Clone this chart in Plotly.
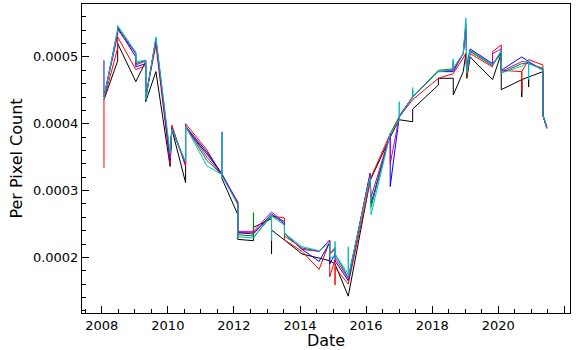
import plotly.graph_objects as go

# Observation dates (some dates carry several observations -> vertical segments)
dates = ["2008-01-26", "2008-06-25", "2009-01-12", "2009-05-01", "2009-08-22",
         "2010-01-26", "2010-02-14", "2010-07-16", "2011-03-08", "2011-08-22",
         "2012-02-13", "2012-08-04", "2013-02-20", "2013-07-13", "2014-01-23",
         "2014-07-31", "2014-11-25", "2015-01-23", "2015-06-18", "2016-02-14",
         "2016-02-25", "2016-09-24", "2017-01-01", "2017-05-30", "2018-03-10",
         "2018-08-22", "2018-12-10", "2019-01-08", "2019-01-19", "2019-02-24",
         "2019-10-30", "2020-02-03", "2020-09-17", "2020-12-02", "2021-05-08",
         "2021-06-21"]

UNIT = 1e-6  # values below are given in millionths

black = [[436, 436], [494, 520], [463, 463], [493, 433], [478], [336], [392], [312, 394],
         [355], [325, 318, 318], [264, 227], [225, 245, 245], [258, 205, 241], [226, 226],
         [205], [199], [195, 195], [190, 190, 190], [142, 142, 142], [315], [318], [380, 380],
         [406, 406, 406], [403, 422, 422], [458, 468], [468, 443, 443], [478], [505], [468],
         [500], [466, 466], [505, 451], [466, 440, 466], [470, 455, 470], [478, 413], [395]]

red = [[334, 436], [513, 530], [481, 481], [487, 440], [518], [340], [398], [336, 400],
       [361], [322, 322, 322], [282, 237], [237, 237, 237], [262, 262, 262], [259, 226],
       [209], [182], [224, 171], [196, 159, 185], [160, 160, 160], [318], [320], [385, 385],
       [410, 410, 410], [436, 436, 436], [468, 468], [475, 475, 475], [498], [505], [472],
       [505], [485, 508], [518, 480], [478, 448, 478], [496, 496, 496], [488, 413], [395]]

blue = [[495, 440], [540, 543], [500, 485], [490, 440], [525], [345], [394], [340, 396],
        [358], [325, 325, 325], [282, 237], [235, 235, 235], [265, 265, 265], [250, 236],
        [212], [194], [222, 190], [205, 195, 195], [165, 165, 165], [326], [280], [385, 306],
        [410, 412, 412], [440, 440, 440], [478, 478], [478, 478, 478], [505], [540], [485],
        [512], [490, 490], [505, 480], [500, 500, 500], [493, 493, 493], [480, 413], [393]]

green = [[440, 440], [535, 545], [505, 490], [495, 436], [527], [350], [392], [342, 396],
         [345], [324, 324, 324], [280, 234], [232, 267, 230], [262, 262, 262], [254, 232],
         [214], [209], [226, 205], [215, 205, 205], [170, 170, 170], [322], [275], [385, 385],
         [410, 410, 410], [440, 450, 440], [480, 480], [482, 495, 482], [505], [550], [478],
         [508], [487, 487], [507, 476], [490, 490, 490], [490, 490, 490], [483, 413], [395]]

magenta = [[440, 440], [533, 541], [505, 488], [494, 438], [526], [348], [392], [340, 397],
           [350], [324, 388, 323], [283, 239], [239, 239, 239], [268, 268, 268], [252, 236],
           [212], [209], [226, 205], [212, 200, 200], [168, 168, 168], [324], [290], [385, 340],
           [410, 410, 410], [440, 440, 440], [478, 478], [480, 490, 480], [505], [545], [480],
           [510], [488, 505], [512, 478], [493, 493, 493], [492, 492, 492], [481, 413], [393]]

cyan = [[436, 440], [540, 547], [507, 493], [495, 436], [530], [356], [392], [343, 396],
        [337], [324, 387, 322], [279, 231], [229, 229, 229], [265, 225, 262], [248, 236],
        [216], [210], [222, 200], [200, 224, 205], [175, 216, 170], [320], [264], [385, 385],
        [406, 433, 411], [439, 454, 440], [478, 478], [481, 497, 483], [505], [558], [476],
        [510], [488, 488], [510, 476], [486, 486, 486], [495, 466, 490], [481, 413], [395]]

series = [("k", black, "#000000"), ("r", red, "#ff0000"), ("b", blue, "#0000ff"),
          ("g", green, "#008000"), ("m", magenta, "#bf00bf"), ("c", cyan, "#00bfbf")]


def expand(groups):
    xs, ys = [], []
    for d, g in zip(dates, groups):
        for v in g:
            xs.append(d)
            ys.append(v * UNIT)
    return xs, ys


fig = go.Figure()
for name, groups, color in series:
    xs, ys = expand(groups)
    fig.add_trace(go.Scatter(x=xs, y=ys, mode="lines", name=name,
                             line=dict(color=color, width=1)))

FAMILY = "DejaVu Sans"
font = dict(family=FAMILY, size=13, color="#000000")

fig.update_layout(
    width=580, height=350,
    margin=dict(l=82, r=10, t=4, b=37),
    paper_bgcolor="white", plot_bgcolor="white",
    showlegend=False, font=font, hovermode=False,
)
fig.update_xaxes(
    type="date", range=["2007-05-28", "2022-03-04"],
    dtick="M24", tick0="2000-01-01", tickformat="%Y",
    ticks="inside", ticklen=7, tickwidth=1, tickcolor="#000000",
    minor=dict(dtick="M6", ticks="inside", ticklen=4, tickwidth=1, tickcolor="#000000"),
    showline=True, linecolor="#000000", linewidth=1, mirror=True,
    showgrid=False, zeroline=False, automargin=False,
    title=dict(text="Date", standoff=4),
)
fig.update_yaxes(
    range=[1.168e-4, 5.792e-4], dtick=1e-4, tick0=0, tickformat=".4f",
    ticks="inside", ticklen=7, tickwidth=1, tickcolor="#000000",
    minor=dict(dtick=2e-5, ticks="inside", ticklen=4, tickwidth=1, tickcolor="#000000"),
    showline=True, linecolor="#000000", linewidth=1, mirror=True,
    showgrid=False, zeroline=False, automargin=False,
    title=dict(text="Per Pixel Count", standoff=6),
)

fig.write_html("out.html", config={"displayModeBar": False, "staticPlot": True},
               post_script="document.body.style.margin='0';document.body.style.padding='0';")
